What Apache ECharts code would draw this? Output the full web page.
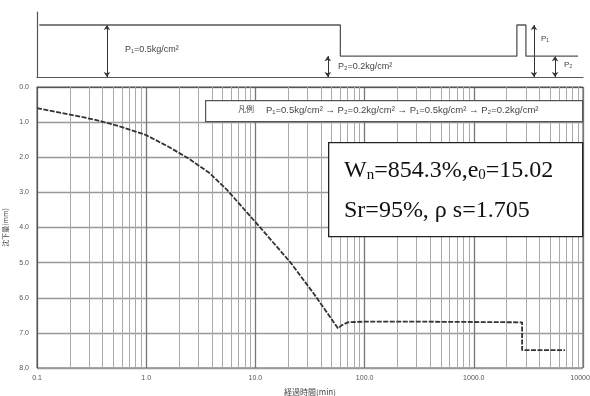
<!DOCTYPE html>
<html><head><meta charset="utf-8">
<script src="https://cdn.jsdelivr.net/npm/echarts@6/dist/echarts.min.js"></script>
<style>html,body{margin:0;padding:0;background:#fff}#c{width:590px;height:396px}</style>
</head><body><div id="c"></div>
<script>
// consolidation curve: elapsed time (min) vs settlement (mm)
const timeMin    = [0.1, 0.17, 0.35, 0.6, 1.0, 1.6, 2.4, 3.8, 5.5, 11, 21, 34, 57, 62, 70, 100, 300, 1000, 2770, 2770, 6840];
const settlement = [0.60, 0.74, 0.94, 1.14, 1.37, 1.70, 2.02, 2.45, 2.93, 3.99, 5.0, 5.87, 6.87, 6.78, 6.70, 6.68, 6.68, 6.69, 6.70, 7.49, 7.49];
// loading history (kg/cm2)
const loadTime  = [0.105, 60, 60, 2480, 2480, 3000, 3000, 9000];
const loadLevel = [0.5, 0.5, 0.2, 0.2, 0.5, 0.5, 0.2, 0.2];
const arrowTimes  = [0.437, 46, 3556, 5550];
const arrowLevels = [0.5, 0.2, 0.5, 0.2];
const xTickLabels = ['0.1', '1.0', '10.0', '100.0', '1000.0', '10000.0'];
const yTickLabels = ['0.0','1.0','2.0','3.0','4.0','5.0','6.0','7.0','8.0'];
const legendText = 'P₁=0.5kg/cm² → P₂=0.2kg/cm² → P₁=0.5kg/cm² → P₂=0.2kg/cm²';

const minorLines = [];
[0.1, 1, 10, 100, 1000].forEach(d => { for (let k = 2; k <= 9; k++) minorLines.push({xAxis: +(d * k).toPrecision(3)}); });

const chart = echarts.init(document.getElementById('c'), null, {renderer: 'canvas'});
chart.setOption({
  backgroundColor: '#fff',
  animation: false,
  grid: [
    {left: 37, right: 7, top: 87, bottom: 28, show: true, borderColor: '#555', borderWidth: 1,
     containLabel: false, outerBoundsMode: 'none'},
    {left: 37, right: 7, top: 12, height: 65, containLabel: false, outerBoundsMode: 'none'}
  ],
  xAxis: [
    {type: 'log', logBase: 10, min: 0.1, max: 10000, gridIndex: 0,
     name: '経過時間(min)', nameLocation: 'middle', nameGap: 20,
     nameTextStyle: {fontSize: 8, color: '#444', fontFamily: 'Noto Sans CJK JP'},
     axisLine: {lineStyle: {color: '#555'}}, axisTick: {show: false},
     axisLabel: {fontSize: 7, color: '#555', margin: 7,
       formatter: v => xTickLabels[Math.round(Math.log10(v)) + 1] || ''},
     splitLine: {show: true, lineStyle: {color: '#777', width: 1.3}}},
    {type: 'log', logBase: 10, min: 0.1, max: 10000, gridIndex: 1,
     axisLine: {show: true, lineStyle: {color: '#555', width: 1.2}}, axisTick: {show: false},
     axisLabel: {show: false}, splitLine: {show: false}}
  ],
  yAxis: [
    {type: 'value', min: 0, max: 8, interval: 1, inverse: true, gridIndex: 0,
     name: '沈下量(mm)', nameLocation: 'middle', nameGap: 24, nameRotate: 90,
     nameTextStyle: {fontSize: 7, color: '#444', fontFamily: 'Noto Sans CJK JP'},
     axisLine: {show: true, lineStyle: {color: '#555'}}, axisTick: {show: false},
     axisLabel: {fontSize: 7, color: '#555', margin: 8, formatter: v => yTickLabels[Math.round(v)]},
     splitLine: {show: true, lineStyle: {color: '#999', width: 1.3}}},
    {type: 'value', min: 0, max: 0.625, gridIndex: 1,
     axisLine: {show: true, lineStyle: {color: '#555', width: 1.2}}, axisTick: {show: false},
     axisLabel: {show: false}, splitLine: {show: false}}
  ],
  series: [
    {type: 'line', xAxisIndex: 0, yAxisIndex: 0, data: [], z: 1, silent: true,
     markLine: {silent: true, symbol: 'none', label: {show: false},
       lineStyle: {color: '#aaa', width: 1, type: 'solid'}, data: minorLines}},
    {type: 'line', xAxisIndex: 0, yAxisIndex: 0, z: 5,
     data: timeMin.map((t, i) => [t, settlement[i]]),
     showSymbol: false, lineStyle: {color: '#333', width: 1.8, type: [5, 1.5]}},
    {type: 'line', xAxisIndex: 1, yAxisIndex: 1, z: 5,
     data: loadTime.map((t, i) => [t, loadLevel[i]]),
     showSymbol: false, lineStyle: {color: '#555', width: 1.3},
     markLine: {silent: true, symbol: ['arrow', 'arrow'], symbolSize: 5, label: {show: false},
       lineStyle: {color: '#333', width: 1, type: 'solid'},
       data: arrowTimes.map((t, i) => [{coord: [t, 0]}, {coord: [t, arrowLevels[i]]}])}}
  ],
  graphic: [
    {type: 'text', left: 125, top: 45, style: {text: 'P₁=0.5kg/cm²', fontSize: 9, fill: '#444'}},
    {type: 'text', left: 338, top: 62, style: {text: 'P₂=0.2kg/cm²', fontSize: 9, fill: '#444'}},
    {type: 'text', left: 541, top: 35, style: {text: 'P₁', fontSize: 8, fill: '#444'}},
    {type: 'text', left: 564, top: 61, style: {text: 'P₂', fontSize: 8, fill: '#444'}},
    {type: 'rect', left: 205, top: 100, z: 10, shape: {width: 377, height: 21},
     style: {fill: '#fff', stroke: '#555', lineWidth: 1.2}},
    {type: 'text', left: 238, top: 105, z: 11, style: {text: '凡例', fontSize: 8, fill: '#444', fontFamily: 'Noto Sans CJK JP'}},
    {type: 'text', left: 266, top: 105, z: 11, style: {text: legendText, fontSize: 9.5, fill: '#444'}},
    {type: 'rect', left: 328, top: 142, z: 10, shape: {width: 254, height: 94},
     style: {fill: '#fff', stroke: '#222', lineWidth: 1.3}},
    {type: 'text', left: 344, top: 159, z: 11, style: {
      text: 'W{s|n}=854.3%,e{s|0}=15.02',
      fontSize: 24, fontFamily: 'Liberation Serif', fill: '#111',
      rich: {s: {fontSize: 15, fontFamily: 'Liberation Serif', fill: '#111', padding: [9, 0, 0, 0]}}}},
    {type: 'text', left: 344, top: 199, z: 11, style: {
      text: 'Sr=95%, ρ s=1.705', fontSize: 24, fontFamily: 'Liberation Serif', fill: '#111'}}
  ]
});
</script></body></html>
